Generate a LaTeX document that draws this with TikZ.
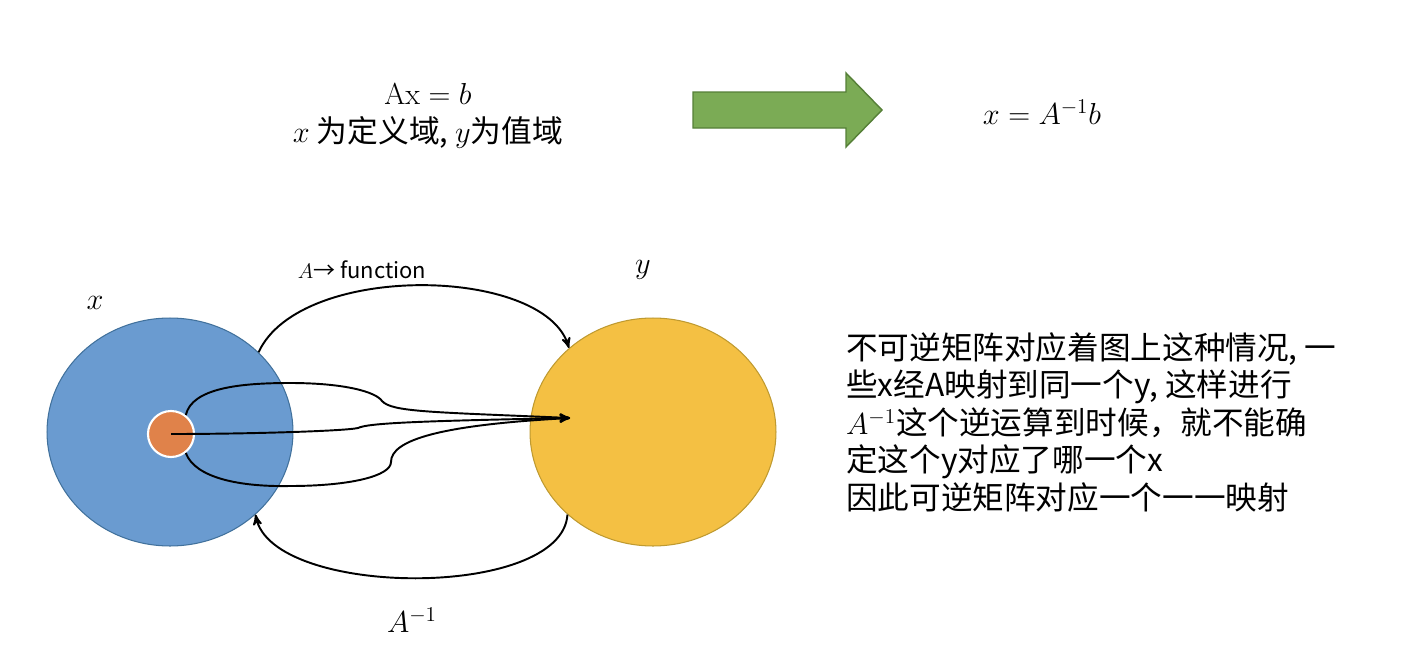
\documentclass[tikz,border=0pt]{standalone}
\usepackage[no-math]{fontspec}
\setmainfont{Noto Sans CJK SC}
\usepackage{amsmath,amssymb}
\usetikzlibrary{positioning}
\usetikzlibrary{shapes,arrows,calc,arrows.meta}

\definecolor{setblue}{HTML}{6A9BD0}
\definecolor{setblueline}{HTML}{41719C}
\definecolor{setyellow}{HTML}{F4C043}
\definecolor{setyellowline}{HTML}{BF9A30}
\definecolor{ptorange}{HTML}{E0824A}
\definecolor{bigarrow}{HTML}{7BAB55}
\definecolor{bigarrowline}{HTML}{557F37}

\begin{document}
\begin{tikzpicture}[x=0.02cm,y=-0.02cm,>=stealth',
  set node/.style={ellipse,draw,line width=0.6pt,minimum width=4.92cm,minimum height=4.56cm,inner sep=0pt},
  point node/.style={circle,fill=ptorange,draw=white,line width=1.2pt,minimum size=0.92cm,inner sep=0pt},
  big text/.style={font=\fontsize{17.5}{21}\selectfont,align=center},
  math label/.style={font=\fontsize{18}{20}\selectfont}]
\useasboundingbox (0,0) rectangle (1404,666);
% the equations on top
\node[big text] at (428,116) (eq) {$\mathrm{Ax}=b$\\[1pt] $x$ 为定义域, $y$为值域};
\draw[fill=bigarrow,draw=bigarrowline,line width=0.8pt] (693,92) -- (846,92) -- (846,73) -- (882,110) -- (846,147) -- (846,128) -- (693,128) -- cycle;
\node[math label] at (1042,112) (sol) {$x=A^{-1}b$};
% the two sets
\node[set node,fill=setblue,draw=setblueline] at (170,432) (X) {};
\node[set node,fill=setyellow,draw=setyellowline] at (653,432) (Y) {};
\node[point node] at (171,434) (P) {};
\coordinate (tip) at (570,418);
\node[math label] at (95,303) (xlab) {$x$};
\node[math label] at (643,270) (ylab) {$y$};
\node[font=\fontsize{12.5}{14}\selectfont] at (362,270) (flab) {$A$→ function};
\node[math label] at (412,620) (invlab) {$A^{-1}$};
% maps
\draw[->, line width=1.1pt] (X.42) .. controls (300,262) and (544,266) .. (Y.135);
\draw[->, line width=1.1pt] (Y.224) .. controls (562,600) and (272,598) .. (X.-44);
\draw[->, line width=1.1pt] (P.52) .. controls (192,388) and (240,383) .. (290,383) .. controls (345,383) and (376,392) .. (382,401) .. controls (392,412) and (430,412) .. (tip);
\draw[->, line width=1.1pt] (P.center) .. controls (250,434) and (345,431) .. (358,428) .. controls (368,423) and (420,421) .. (tip);
\draw[->, line width=1.1pt] (P.-52) .. controls (195,478) and (240,487) .. (290,486) .. controls (350,486) and (391,476) .. (391,462) .. controls (391,440) and (440,425) .. (tip);
% explanation
\node[font=\fontsize{18}{21.4}\selectfont,align=left,anchor=north west] at (840,326) (note) {不可逆矩阵对应着图上这种情况, 一\\ 些x经A映射到同一个y, 这样进行\\ $A^{-1}$这个逆运算到时候，就不能确\\ 定这个y对应了哪一个x\\ 因此可逆矩阵对应一个一一映射};
\end{tikzpicture}
\end{document}
